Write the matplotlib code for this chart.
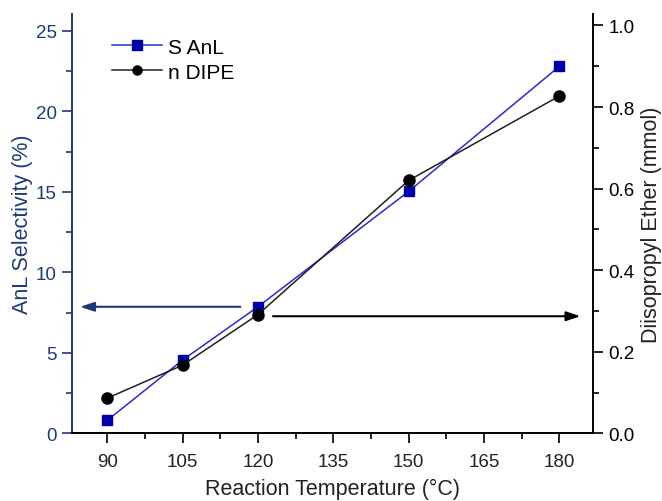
import matplotlib.pyplot as plt

plt.rcParams['font.family'] = ['Liberation Sans', 'DejaVu Sans']

temp = [90, 105, 120, 150, 180]
sel_anl = [0.8, 4.55, 7.86, 15.03, 22.8]
n_dipe = [0.086, 0.167, 0.291, 0.62, 0.827]
xticks = [90, 105, 120, 135, 150, 165, 180]

navy = '#1F3B73'
blue = '#0000A8'

fig = plt.figure(figsize=(6.62, 5.02), dpi=100)
ax = fig.add_axes([0.1088, 0.1349, 0.787, 0.8351])
ax2 = ax.twinx()

l1, = ax.plot(temp, sel_anl, color='#2B2BC8', lw=1.1, marker='s', ms=7,
              mfc=blue, mec=blue, label='S AnL', zorder=3)
l2, = ax2.plot(temp, n_dipe, color='#202020', lw=1.1, marker='o', ms=8,
               mfc='black', mec='black', label='n DIPE', zorder=3)

ax.set_xlim(83, 186.7)
ax.set_ylim(0, 26.05)
ax2.set_ylim(0, 1.028)
ax.set_xticks(xticks)
ax.set_xticks([97.5, 112.5, 127.5, 142.5, 157.5, 172.5], minor=True)
ax.set_yticks([0, 5, 10, 15, 20, 25])
ax.set_yticks([2.5, 7.5, 12.5, 17.5, 22.5], minor=True)
ax2.set_yticks([0.0, 0.2, 0.4, 0.6, 0.8, 1.0])
ax2.set_yticks([0.1, 0.3, 0.5, 0.7, 0.9], minor=True)
ax2.set_yticklabels(['0.0', '0.2', '0.4', '0.6', '0.8', '1.0'])

for a in (ax, ax2):
    a.spines['top'].set_visible(False)
    a.tick_params(which='major', direction='out', length=7, width=1.2,
                  labelsize=13.5, pad=4)
    a.tick_params(which='minor', direction='out', length=4, width=1.2)
ax.tick_params(axis='x', which='major', pad=7)

ax.spines['left'].set_color(navy)
ax.spines['left'].set_linewidth(1.4)
ax.spines['bottom'].set_linewidth(1.4)
ax2.spines['left'].set_visible(False)
ax2.spines['bottom'].set_visible(False)
ax2.spines['right'].set_linewidth(1.4)
ax.spines['right'].set_visible(False)
ax.tick_params(axis='y', which='both', colors=navy)
ax.tick_params(axis='x', which='both', colors='black', labelcolor='#222222')

ax.set_xlabel('Reaction Temperature (°C)', fontsize=15.5, color='#222222', labelpad=6)
ax.set_ylabel('AnL Selectivity (%)', fontsize=15.5, color=navy, labelpad=2)
ax2.set_ylabel('Diisopropyl Ether (mmol)', fontsize=15.5, color='#222222', labelpad=5)

ax.annotate('', xy=(84.6, 7.86), xytext=(116.5, 7.86),
            arrowprops=dict(arrowstyle='-|>,head_length=0.6,head_width=0.2',
                            color=navy, lw=1.5, mutation_scale=14,
                            shrinkA=0, shrinkB=0))
ax2.annotate('', xy=(184.2, 0.287), xytext=(123, 0.287),
             arrowprops=dict(arrowstyle='-|>,head_length=0.6,head_width=0.2',
                             color='black', lw=1.5, mutation_scale=14,
                             shrinkA=0, shrinkB=0))

leg = ax.legend(handles=[l1, l2], loc='upper left', bbox_to_anchor=(0.077, 0.944),
                frameon=False, fontsize=15, handlelength=2.4, handletextpad=0.3,
                labelspacing=0.3, borderaxespad=0, borderpad=0)
for h in leg.legend_handles:
    h.set_markersize(6.5)

fig.savefig('out.png', dpi=100)
